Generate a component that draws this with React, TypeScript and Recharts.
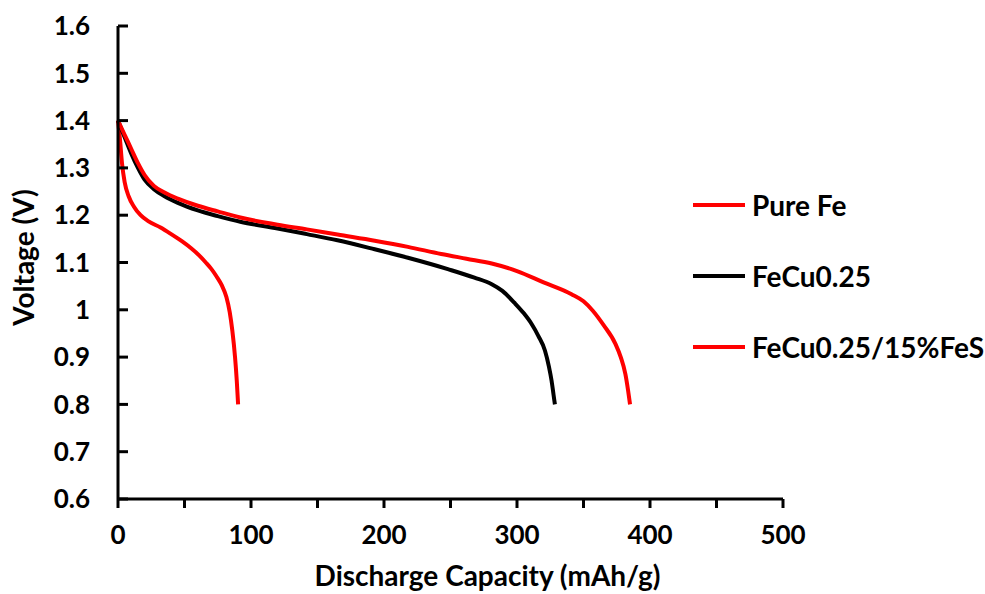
import { Legend, Line, LineChart, XAxis, YAxis } from "recharts";

const pureFeCap = [0, 1.5, 3, 5, 8, 12, 17, 23, 32, 40, 48, 55, 61, 66, 70, 74, 78, 81.5, 84, 86, 88, 89.3, 90.3];
const pureFeV = [1.4, 1.36, 1.31, 1.27, 1.24, 1.218, 1.2, 1.187, 1.174, 1.16, 1.145, 1.13, 1.115, 1.1, 1.087, 1.071, 1.052, 1.027, 0.995, 0.955, 0.9, 0.85, 0.8];

const feCuCap = [0, 5, 10, 15, 20, 27, 35, 45, 60, 75, 92, 120, 142, 165, 193, 218, 248, 268, 281, 289, 298, 305, 311, 316, 321, 324, 326, 327.5, 328.5];
const feCuV = [1.4, 1.365, 1.33, 1.3, 1.275, 1.255, 1.24, 1.226, 1.21, 1.198, 1.186, 1.172, 1.16, 1.147, 1.128, 1.11, 1.086, 1.068, 1.054, 1.04, 1.015, 0.993, 0.97, 0.945, 0.914, 0.88, 0.85, 0.82, 0.8];

const feSCap = [0, 5, 10, 15, 20, 27, 35, 45, 60, 75, 92, 120, 142, 165, 193, 218, 243, 262, 281, 300, 320, 341, 350, 357, 365, 374, 378, 381.5, 383.5, 385];
const feSV = [1.4, 1.37, 1.34, 1.31, 1.285, 1.262, 1.248, 1.235, 1.22, 1.208, 1.195, 1.18, 1.17, 1.159, 1.146, 1.133, 1.118, 1.108, 1.098, 1.082, 1.058, 1.033, 1.018, 0.998, 0.968, 0.928, 0.9, 0.864, 0.83, 0.8];

const xTicks = [0, 50, 100, 150, 200, 250, 300, 350, 400, 450, 500];
const yTicks = [0.6, 0.7, 0.8, 0.9, 1.0, 1.1, 1.2, 1.3, 1.4, 1.5, 1.6];

const toPoints = (cap: number[], v: number[]) => cap.map((c, i) => ({ cap: c, v: v[i] }));

const series = [
  { name: "Pure Fe", color: "#ff0000", data: toPoints(pureFeCap, pureFeV) },
  { name: "FeCu0.25", color: "#000000", data: toPoints(feCuCap, feCuV) },
  { name: "FeCu0.25/15%FeS", color: "#ff0000", data: toPoints(feSCap, feSV) },
];

const font = "Lato, 'Open Sans', sans-serif";
const tickStyle = { fontSize: 26, fontWeight: 700, fill: "#000", fontFamily: font };

function LegendBox() {
  return (
    <div style={{ fontFamily: font, fontSize: 28, fontWeight: 700, color: "#000" }}>
      {series.map((s) => (
        <div key={s.name} style={{ height: 71, display: "flex", alignItems: "center", whiteSpace: "nowrap" }}>
          <div style={{ width: 52, height: 4, background: s.color, marginRight: 7, flexShrink: 0 }} />
          <span>{s.name}</span>
        </div>
      ))}
    </div>
  );
}

export default function App() {
  return (
    <div style={{ position: "absolute", left: 0, top: 0, background: "#fff" }}>
      <LineChart width={985} height={594} margin={{ top: 26, right: 2, left: 58, bottom: 25 }}>
        <XAxis
          dataKey="cap"
          type="number"
          domain={[0, 500]}
          ticks={xTicks}
          interval={0}
          height={70}
          tickSize={9}
          tickMargin={18}
          tickLine={{ stroke: "#000", strokeWidth: 3 }}
          axisLine={{ stroke: "#000", strokeWidth: 3 }}
          tick={tickStyle}
          tickFormatter={(v: number) => (v % 100 === 0 ? String(v) : "")}
          allowDuplicatedCategory={false}
          label={({ viewBox }: any) => (
            <text
              x={viewBox.x + viewBox.width / 2 + 37}
              y={575}
              textAnchor="middle"
              dominantBaseline="central"
              fontSize={28}
              fontWeight={700}
              fontFamily={font}
              fill="#000"
            >
              Discharge Capacity (mAh/g)
            </text>
          )}
        />
        <YAxis
          dataKey="v"
          type="number"
          domain={[0.6, 1.6]}
          ticks={yTicks}
          interval={0}
          width={60}
          tickSize={-10}
          tickMargin={38}
          tickLine={{ stroke: "#000", strokeWidth: 3 }}
          axisLine={{ stroke: "#000", strokeWidth: 3 }}
          tick={tickStyle}
          tickFormatter={(v: number) => Number(v.toFixed(1)).toString()}
          label={({ viewBox }: any) => (
            <text
              x={23}
              y={viewBox.y + viewBox.height / 2 - 5}
              transform={`rotate(-90, 23, ${viewBox.y + viewBox.height / 2 - 5})`}
              textAnchor="middle"
              dominantBaseline="central"
              fontSize={28}
              fontWeight={700}
              fontFamily={font}
              fill="#000"
            >
              Voltage (V)
            </text>
          )}
        />
        <Legend
          layout="vertical"
          align="right"
          verticalAlign="middle"
          content={<LegendBox />}
          wrapperStyle={{ left: 693, top: 169, width: 200 }}
        />
        {series.map((s) => (
          <Line
            key={s.name}
            data={s.data}
            dataKey="v"
            name={s.name}
            type="monotone"
            stroke={s.color}
            strokeWidth={4}
            dot={false}
            isAnimationActive={false}
          />
        ))}
      </LineChart>
    </div>
  );
}
